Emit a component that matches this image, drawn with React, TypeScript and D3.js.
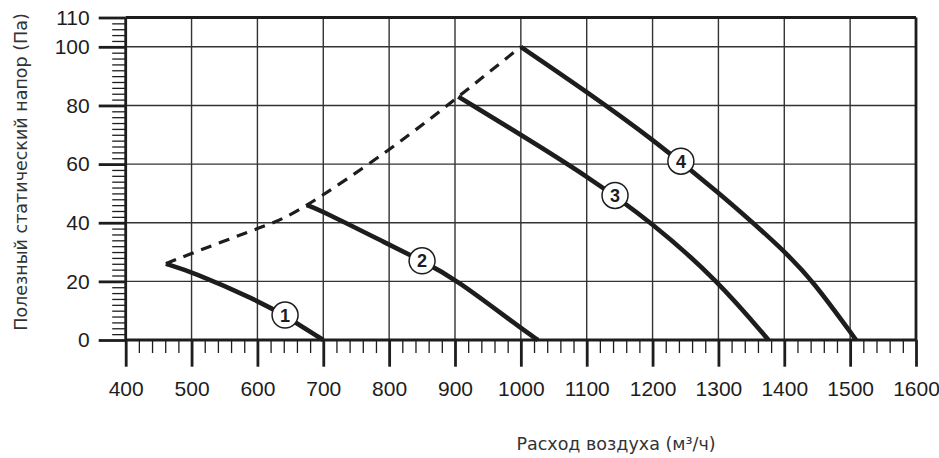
import React, { useEffect, useRef } from "react";
import * as d3 from "d3";

// air flow (m3/h) vs static pressure (Pa)
const curve1X = [461, 500, 600, 642, 700];
const curve1Y = [26, 23.3, 13.5, 8.3, 0];
const curve2X = [675, 700, 800, 850, 900, 1000, 1026];
const curve2Y = [46, 43.8, 32.5, 27, 21, 4, 0];
const curve3X = [905, 1000, 1100, 1200, 1300, 1376];
const curve3Y = [83, 70, 56, 40, 20, 0];
const curve4X = [1000, 1100, 1200, 1300, 1400, 1444, 1509];
const curve4Y = [100, 84.7, 68.5, 50.5, 30.5, 20, 0];

// dashed envelope through the starts of the curves
const envelopeX = [461, 500, 600, 675, 800, 905, 1000];
const envelopeY = [26, 29.5, 38, 46, 65, 83, 100];

const labelNames = ["1", "2", "3", "4"];
const labelX = [642, 850, 1143, 1243];
const labelY = [8.5, 27, 49.3, 61];

const xTicks = [400, 500, 600, 700, 800, 900, 1000, 1100, 1200, 1300, 1400, 1500, 1600];
const yTicks = [0, 20, 40, 60, 80, 100, 110];

const yTitle = "Полезный статический напор (Па)";
const xTitle = "Расход воздуха (м³/ч)";

const W = 939;
const H = 458;

export default function App() {
  const svgRef = useRef(null);

  useEffect(() => {
    const svg = d3.select(svgRef.current);
    svg.selectAll("*").remove();

    const x = d3.scaleLinear().domain([400, 1600]).range([125.7, 916]);
    const y = d3.scaleLinear().domain([0, 110]).range([340, 17.5]);
    const ink = "#1d1d1d";

    // grid
    const grid = svg.append("g").attr("stroke", "#333").attr("stroke-width", 1.4);
    grid
      .selectAll("line.v")
      .data(xTicks.slice(1, -1))
      .join("line")
      .attr("class", "v")
      .attr("x1", (d) => x(d))
      .attr("x2", (d) => x(d))
      .attr("y1", y(110))
      .attr("y2", y(0));
    grid
      .selectAll("line.h")
      .data(yTicks.slice(1, -1))
      .join("line")
      .attr("class", "h")
      .attr("x1", x(400))
      .attr("x2", x(1600))
      .attr("y1", (d) => y(d))
      .attr("y2", (d) => y(d));

    // minor ticks
    const minorX = d3.range(400, 1600, 20).filter((v) => v % 100 !== 0);
    const minorY = d3.range(0, 110, 2).filter((v) => v % 20 !== 0 && v !== 100);

    svg
      .append("g")
      .attr("transform", `translate(0,${y(0)})`)
      .call(d3.axisBottom(x).tickValues(minorX).tickSize(13).tickFormat(() => ""))
      .call((g) => g.select(".domain").remove())
      .call((g) => g.selectAll("line").attr("stroke", ink).attr("stroke-width", 1.3));

    svg
      .append("g")
      .attr("transform", `translate(${x(400)},0)`)
      .call(d3.axisLeft(y).tickValues(minorY).tickSize(13.5).tickFormat(() => ""))
      .call((g) => g.select(".domain").remove())
      .call((g) => g.selectAll("line").attr("stroke", ink).attr("stroke-width", 1.3));

    // major ticks + labels
    svg
      .append("g")
      .attr("transform", `translate(0,${y(0)})`)
      .call(d3.axisBottom(x).tickValues(xTicks).tickSize(26.7).tickPadding(14.5).tickFormat(d3.format("d")))
      .call((g) => g.select(".domain").remove())
      .call((g) => g.selectAll("line").attr("stroke", ink).attr("stroke-width", 2.8))
      .call((g) =>
        g
          .selectAll("text")
          .attr("fill", ink)
          .attr("font-family", "Liberation Sans, Arial, sans-serif")
          .attr("font-size", 21),
      );

    svg
      .append("g")
      .attr("transform", `translate(${x(400)},0)`)
      .call(d3.axisLeft(y).tickValues(yTicks).tickSize(27).tickPadding(9).tickFormat(d3.format("d")))
      .call((g) => g.select(".domain").remove())
      .call((g) => g.selectAll("line").attr("stroke", ink).attr("stroke-width", 2.8))
      .call((g) =>
        g
          .selectAll("text")
          .attr("fill", ink)
          .attr("font-family", "Liberation Sans, Arial, sans-serif")
          .attr("font-size", 21),
      );

    // frame
    const frame = svg.append("g").attr("stroke", ink).attr("stroke-width", 2.8).attr("fill", "none");
    frame.append("line").attr("x1", x(400)).attr("x2", x(1600)).attr("y1", y(110)).attr("y2", y(110));
    frame.append("line").attr("x1", x(400)).attr("x2", x(1600)).attr("y1", y(0)).attr("y2", y(0));
    frame.append("line").attr("x1", x(400)).attr("x2", x(400)).attr("y1", y(110)).attr("y2", y(0));
    frame.append("line").attr("x1", x(1600)).attr("x2", x(1600)).attr("y1", y(110)).attr("y2", y(0));

    const line = d3
      .line<[number, number]>()
      .x((d) => x(d[0]))
      .y((d) => y(d[1]));

    // dashed envelope
    svg
      .append("path")
      .attr("d", line.curve(d3.curveNatural)(d3.zip(envelopeX, envelopeY) as [number, number][]))
      .attr("fill", "none")
      .attr("stroke", ink)
      .attr("stroke-width", 3.2)
      .attr("stroke-dasharray", "11 8");

    // fan curves, smoothed
    const smooth = line.curve(d3.curveBasis);
    const curves = [
      [curve1X, curve1Y],
      [curve2X, curve2Y],
      [curve3X, curve3Y],
      [curve4X, curve4Y],
    ];
    svg
      .append("g")
      .selectAll("path")
      .data(curves)
      .join("path")
      .attr("d", (c) => smooth(d3.zip(c[0], c[1]) as [number, number][]))
      .attr("fill", "none")
      .attr("stroke", ink)
      .attr("stroke-width", 4.6)
      .attr("stroke-linejoin", "round");

    // numbered markers
    const marks = svg
      .append("g")
      .selectAll("g")
      .data(labelNames)
      .join("g")
      .attr("transform", (d, i) => `translate(${x(labelX[i])},${y(labelY[i])})`);
    marks.append("circle").attr("r", 13).attr("fill", "#fff").attr("stroke", ink).attr("stroke-width", 1.5);
    marks
      .append("text")
      .attr("text-anchor", "middle")
      .attr("dy", "0.36em")
      .attr("font-family", "Liberation Sans, Arial, sans-serif")
      .attr("font-weight", "bold")
      .attr("font-size", 18)
      .attr("fill", ink)
      .text((d) => d);

    // titles
    svg
      .append("text")
      .attr("transform", `translate(27,172) rotate(-90)`)
      .attr("text-anchor", "middle")
      .attr("font-family", "DejaVu Sans, sans-serif")
      .attr("font-size", 17.5)
      .attr("fill", "#333")
      .text(yTitle);

    svg
      .append("text")
      .attr("x", 616)
      .attr("y", 450)
      .attr("text-anchor", "middle")
      .attr("font-family", "DejaVu Sans, sans-serif")
      .attr("font-size", 17.5)
      .attr("fill", "#333")
      .text(xTitle);
  }, []);

  return (
    <svg
      ref={svgRef}
      width={W}
      height={H}
      viewBox={`0 0 ${W} ${H}`}
      style={{ position: "absolute", left: 0, top: 0, background: "#fff" }}
    />
  );
}
